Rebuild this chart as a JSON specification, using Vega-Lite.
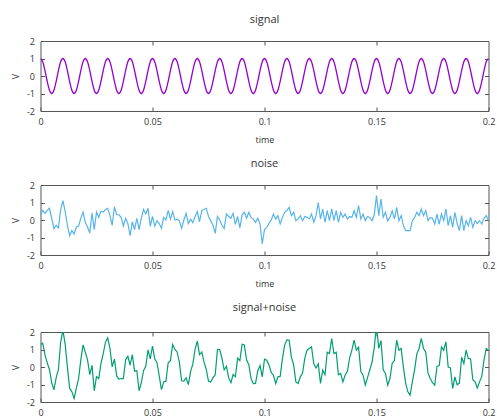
{
"$schema": "https://vega.github.io/schema/vega-lite/v6.json",
"padding": {"left": 10.5, "top": 13, "right": 5, "bottom": 5},
"spacing": 12,
"datasets": {"d": [
{"t":0,"s":1,"n":0.29,"sn":1.29},
{"t":0.001,"s":0.81,"n":0.55,"sn":1.36},
{"t":0.002,"s":0.31,"n":0.38,"sn":0.69},
{"t":0.003,"s":-0.31,"n":0.55,"sn":0.24},
{"t":0.004,"s":-0.81,"n":0.67,"sn":-0.14},
{"t":0.005,"s":-1,"n":0.1,"sn":-0.9},
{"t":0.006,"s":-0.81,"n":-0.5,"sn":-1.31},
{"t":0.007,"s":-0.31,"n":-0.3,"sn":-0.61},
{"t":0.008,"s":0.31,"n":-0.45,"sn":-0.14},
{"t":0.009,"s":0.81,"n":0.6,"sn":1.41},
{"t":0.01,"s":1,"n":1.1,"sn":2.1},
{"t":0.011,"s":0.81,"n":0.5,"sn":1.31},
{"t":0.012,"s":0.31,"n":-0.3,"sn":0.01},
{"t":0.013,"s":-0.31,"n":-0.9,"sn":-1.21},
{"t":0.014,"s":-0.81,"n":-0.6,"sn":-1.41},
{"t":0.015,"s":-1,"n":-0.8,"sn":-1.8},
{"t":0.016,"s":-0.81,"n":-0.4,"sn":-1.21},
{"t":0.017,"s":-0.31,"n":-0.35,"sn":-0.66},
{"t":0.018,"s":0.31,"n":0.1,"sn":0.41},
{"t":0.019,"s":0.81,"n":0.45,"sn":1.26},
{"t":0.02,"s":1,"n":-0.15,"sn":0.85},
{"t":0.021,"s":0.81,"n":-0.4,"sn":0.41},
{"t":0.022,"s":0.31,"n":-0.75,"sn":-0.44},
{"t":0.023,"s":-0.31,"n":0.4,"sn":0.09},
{"t":0.024,"s":-0.81,"n":-0.55,"sn":-1.36},
{"t":0.025,"s":-1,"n":0.45,"sn":-0.55},
{"t":0.026,"s":-0.81,"n":0.15,"sn":-0.66},
{"t":0.027,"s":-0.31,"n":0.5,"sn":0.19},
{"t":0.028,"s":0.31,"n":0.45,"sn":0.76},
{"t":0.029,"s":0.81,"n":0.6,"sn":1.41},
{"t":0.03,"s":1,"n":0.67,"sn":1.67},
{"t":0.031,"s":0.81,"n":0.25,"sn":1.06},
{"t":0.032,"s":0.31,"n":-0.3,"sn":0.01},
{"t":0.033,"s":-0.31,"n":0.76,"sn":0.45},
{"t":0.034,"s":-0.81,"n":0.3,"sn":-0.51},
{"t":0.035,"s":-1,"n":0.3,"sn":-0.7},
{"t":0.036,"s":-0.81,"n":0.15,"sn":-0.66},
{"t":0.037,"s":-0.31,"n":-0.35,"sn":-0.66},
{"t":0.038,"s":0.31,"n":0.1,"sn":0.41},
{"t":0.039,"s":0.81,"n":-0.2,"sn":0.61},
{"t":0.04,"s":1,"n":-0.9,"sn":0.1},
{"t":0.041,"s":0.81,"n":-0.1,"sn":0.71},
{"t":0.042,"s":0.31,"n":-0.55,"sn":-0.24},
{"t":0.043,"s":-0.31,"n":0.1,"sn":-0.21},
{"t":0.044,"s":-0.81,"n":-0.55,"sn":-1.36},
{"t":0.045,"s":-1,"n":0.1,"sn":-0.9},
{"t":0.046,"s":-0.81,"n":0.6,"sn":-0.21},
{"t":0.047,"s":-0.31,"n":0.35,"sn":0.04},
{"t":0.048,"s":0.31,"n":0.67,"sn":0.98},
{"t":0.049,"s":0.81,"n":-0.35,"sn":0.46},
{"t":0.05,"s":1,"n":0.2,"sn":1.2},
{"t":0.051,"s":0.81,"n":-0.35,"sn":0.46},
{"t":0.052,"s":0.31,"n":-0.05,"sn":0.26},
{"t":0.053,"s":-0.31,"n":-0.2,"sn":-0.51},
{"t":0.054,"s":-0.81,"n":-0.48,"sn":-1.29},
{"t":0.055,"s":-1,"n":0.15,"sn":-0.85},
{"t":0.056,"s":-0.81,"n":0,"sn":-0.81},
{"t":0.057,"s":-0.31,"n":0.55,"sn":0.24},
{"t":0.058,"s":0.31,"n":0.05,"sn":0.36},
{"t":0.059,"s":0.81,"n":0.48,"sn":1.29},
{"t":0.06,"s":1,"n":0,"sn":1},
{"t":0.061,"s":0.81,"n":0.05,"sn":0.86},
{"t":0.062,"s":0.31,"n":-0.05,"sn":0.26},
{"t":0.063,"s":-0.31,"n":-0.48,"sn":-0.79},
{"t":0.064,"s":-0.81,"n":0,"sn":-0.81},
{"t":0.065,"s":-1,"n":0.38,"sn":-0.62},
{"t":0.066,"s":-0.81,"n":-0.2,"sn":-1.01},
{"t":0.067,"s":-0.31,"n":0.05,"sn":-0.26},
{"t":0.068,"s":0.31,"n":-0.15,"sn":0.16},
{"t":0.069,"s":0.81,"n":0.2,"sn":1.01},
{"t":0.07,"s":1,"n":0.48,"sn":1.48},
{"t":0.071,"s":0.81,"n":-0.1,"sn":0.71},
{"t":0.072,"s":0.31,"n":0.55,"sn":0.86},
{"t":0.073,"s":-0.31,"n":0.6,"sn":0.29},
{"t":0.074,"s":-0.81,"n":0.67,"sn":-0.14},
{"t":0.075,"s":-1,"n":0.2,"sn":-0.8},
{"t":0.076,"s":-0.81,"n":-0.05,"sn":-0.86},
{"t":0.077,"s":-0.31,"n":-0.3,"sn":-0.61},
{"t":0.078,"s":0.31,"n":-0.76,"sn":-0.45},
{"t":0.079,"s":0.81,"n":0.2,"sn":1.01},
{"t":0.08,"s":1,"n":0,"sn":1},
{"t":0.081,"s":0.81,"n":-0.3,"sn":0.51},
{"t":0.082,"s":0.31,"n":-0.48,"sn":-0.17},
{"t":0.083,"s":-0.31,"n":0.35,"sn":0.04},
{"t":0.084,"s":-0.81,"n":0.2,"sn":-0.61},
{"t":0.085,"s":-1,"n":0.1,"sn":-0.9},
{"t":0.086,"s":-0.81,"n":0.38,"sn":-0.43},
{"t":0.087,"s":-0.31,"n":-0.25,"sn":-0.56},
{"t":0.088,"s":0.31,"n":0.2,"sn":0.51},
{"t":0.089,"s":0.81,"n":-0.45,"sn":0.36},
{"t":0.09,"s":1,"n":0.3,"sn":1.3},
{"t":0.091,"s":0.81,"n":0.45,"sn":1.26},
{"t":0.092,"s":0.31,"n":0.1,"sn":0.41},
{"t":0.093,"s":-0.31,"n":0.44,"sn":0.13},
{"t":0.094,"s":-0.81,"n":0.15,"sn":-0.66},
{"t":0.095,"s":-1,"n":0.05,"sn":-0.95},
{"t":0.096,"s":-0.81,"n":-0.13,"sn":-0.94},
{"t":0.097,"s":-0.31,"n":0.1,"sn":-0.21},
{"t":0.098,"s":0.31,"n":-0.23,"sn":0.08},
{"t":0.099,"s":0.81,"n":-1.37,"sn":-0.56},
{"t":0.1,"s":1,"n":-0.55,"sn":0.45},
{"t":0.101,"s":0.81,"n":-0.42,"sn":0.39},
{"t":0.102,"s":0.31,"n":-0.2,"sn":0.11},
{"t":0.103,"s":-0.31,"n":0,"sn":-0.31},
{"t":0.104,"s":-0.81,"n":0.34,"sn":-0.47},
{"t":0.105,"s":-1,"n":0.06,"sn":-0.94},
{"t":0.106,"s":-0.81,"n":0.25,"sn":-0.56},
{"t":0.107,"s":-0.31,"n":-0.23,"sn":-0.54},
{"t":0.108,"s":0.31,"n":0.15,"sn":0.46},
{"t":0.109,"s":0.81,"n":0.44,"sn":1.25},
{"t":0.11,"s":1,"n":0.55,"sn":1.55},
{"t":0.111,"s":0.81,"n":0.72,"sn":1.53},
{"t":0.112,"s":0.31,"n":0.25,"sn":0.56},
{"t":0.113,"s":-0.31,"n":0.44,"sn":0.13},
{"t":0.114,"s":-0.81,"n":-0.04,"sn":-0.85},
{"t":0.115,"s":-1,"n":0.06,"sn":-0.94},
{"t":0.116,"s":-0.81,"n":0.25,"sn":-0.56},
{"t":0.117,"s":-0.31,"n":-0.04,"sn":-0.35},
{"t":0.118,"s":0.31,"n":0.2,"sn":0.51},
{"t":0.119,"s":0.81,"n":0.15,"sn":0.96},
{"t":0.12,"s":1,"n":0.06,"sn":1.06},
{"t":0.121,"s":0.81,"n":0.34,"sn":1.15},
{"t":0.122,"s":0.31,"n":-0.13,"sn":0.18},
{"t":0.123,"s":-0.31,"n":0.25,"sn":-0.06},
{"t":0.124,"s":-0.81,"n":1,"sn":0.19},
{"t":0.125,"s":-1,"n":0.06,"sn":-0.94},
{"t":0.126,"s":-0.81,"n":0.63,"sn":-0.18},
{"t":0.127,"s":-0.31,"n":-0.13,"sn":-0.44},
{"t":0.128,"s":0.31,"n":0.53,"sn":0.84},
{"t":0.129,"s":0.81,"n":-0.04,"sn":0.77},
{"t":0.13,"s":1,"n":0.63,"sn":1.63},
{"t":0.131,"s":0.81,"n":-0.04,"sn":0.77},
{"t":0.132,"s":0.31,"n":0.53,"sn":0.84},
{"t":0.133,"s":-0.31,"n":-0.13,"sn":-0.44},
{"t":0.134,"s":-0.81,"n":0.44,"sn":-0.37},
{"t":0.135,"s":-1,"n":0.15,"sn":-0.85},
{"t":0.136,"s":-0.81,"n":0.34,"sn":-0.47},
{"t":0.137,"s":-0.31,"n":0.06,"sn":-0.25},
{"t":0.138,"s":0.31,"n":0.2,"sn":0.51},
{"t":0.139,"s":0.81,"n":0.15,"sn":0.96},
{"t":0.14,"s":1,"n":0.53,"sn":1.53},
{"t":0.141,"s":0.81,"n":0.15,"sn":0.96},
{"t":0.142,"s":0.31,"n":0.82,"sn":1.13},
{"t":0.143,"s":-0.31,"n":0.06,"sn":-0.25},
{"t":0.144,"s":-0.81,"n":0.34,"sn":-0.47},
{"t":0.145,"s":-1,"n":-0.04,"sn":-1.04},
{"t":0.146,"s":-0.81,"n":0.2,"sn":-0.61},
{"t":0.147,"s":-0.31,"n":0.15,"sn":-0.16},
{"t":0.148,"s":0.31,"n":-0.04,"sn":0.27},
{"t":0.149,"s":0.81,"n":0.3,"sn":1.11},
{"t":0.15,"s":1,"n":1.39,"sn":2.39},
{"t":0.151,"s":0.81,"n":0.25,"sn":1.06},
{"t":0.152,"s":0.31,"n":1.2,"sn":1.51},
{"t":0.153,"s":-0.31,"n":0.15,"sn":-0.16},
{"t":0.154,"s":-0.81,"n":0.44,"sn":-0.37},
{"t":0.155,"s":-1,"n":-0.04,"sn":-1.04},
{"t":0.156,"s":-0.81,"n":0.15,"sn":-0.66},
{"t":0.157,"s":-0.31,"n":0.53,"sn":0.22},
{"t":0.158,"s":0.31,"n":0.06,"sn":0.37},
{"t":0.159,"s":0.81,"n":0.72,"sn":1.53},
{"t":0.16,"s":1,"n":-0.04,"sn":0.96},
{"t":0.161,"s":0.81,"n":0.25,"sn":1.06},
{"t":0.162,"s":0.31,"n":-0.32,"sn":-0.01},
{"t":0.163,"s":-0.31,"n":-0.61,"sn":-0.92},
{"t":0.164,"s":-0.81,"n":-0.61,"sn":-1.42},
{"t":0.165,"s":-1,"n":-0.61,"sn":-1.61},
{"t":0.166,"s":-0.81,"n":-0.04,"sn":-0.85},
{"t":0.167,"s":-0.31,"n":0.15,"sn":-0.16},
{"t":0.168,"s":0.31,"n":0.44,"sn":0.75},
{"t":0.169,"s":0.81,"n":0.25,"sn":1.06},
{"t":0.17,"s":1,"n":0.63,"sn":1.63},
{"t":0.171,"s":0.81,"n":0.25,"sn":1.06},
{"t":0.172,"s":0.31,"n":0.53,"sn":0.84},
{"t":0.173,"s":-0.31,"n":-0.04,"sn":-0.35},
{"t":0.174,"s":-0.81,"n":0.15,"sn":-0.66},
{"t":0.175,"s":-1,"n":0.1,"sn":-0.9},
{"t":0.176,"s":-0.81,"n":-0.23,"sn":-1.04},
{"t":0.177,"s":-0.31,"n":0.34,"sn":0.03},
{"t":0.178,"s":0.31,"n":-0.23,"sn":0.08},
{"t":0.179,"s":0.81,"n":0.34,"sn":1.15},
{"t":0.18,"s":1,"n":-0.04,"sn":0.96},
{"t":0.181,"s":0.81,"n":0.63,"sn":1.44},
{"t":0.182,"s":0.31,"n":-0.32,"sn":-0.01},
{"t":0.183,"s":-0.31,"n":0.25,"sn":-0.06},
{"t":0.184,"s":-0.81,"n":-0.42,"sn":-1.23},
{"t":0.185,"s":-1,"n":0.44,"sn":-0.56},
{"t":0.186,"s":-0.81,"n":-0.2,"sn":-1.01},
{"t":0.187,"s":-0.31,"n":-0.61,"sn":-0.92},
{"t":0.188,"s":0.31,"n":0.25,"sn":0.56},
{"t":0.189,"s":0.81,"n":-0.61,"sn":0.2},
{"t":0.19,"s":1,"n":-0.04,"sn":0.96},
{"t":0.191,"s":0.81,"n":-0.32,"sn":0.49},
{"t":0.192,"s":0.31,"n":0.15,"sn":0.46},
{"t":0.193,"s":-0.31,"n":-0.42,"sn":-0.73},
{"t":0.194,"s":-0.81,"n":-0.04,"sn":-0.85},
{"t":0.195,"s":-1,"n":-0.2,"sn":-1.2},
{"t":0.196,"s":-0.81,"n":-0.04,"sn":-0.85},
{"t":0.197,"s":-0.31,"n":-0.23,"sn":-0.54},
{"t":0.198,"s":0.31,"n":0.1,"sn":0.41},
{"t":0.199,"s":0.81,"n":0.25,"sn":1.06},
{"t":0.2,"s":1,"n":-0.04,"sn":0.96}
]},
"data": {"name": "d"},
"config": {
  "font": "Open Sans",
  "view": {"stroke": "#555", "strokeWidth": 1},
  "axis": {"grid": false, "domain": false, "tickColor": "#555", "tickSize": -4, "tickWidth": 1, "labelFontSize": 9, "labelColor": "#333", "labelPadding": 10, "titleFontSize": 9, "titleFontWeight": "normal", "titleColor": "#333", "labelFont": "Open Sans", "titleFont": "Open Sans"},
  "title": {"fontSize": 11, "fontWeight": "normal", "color": "#333", "offset": 12, "font": "Open Sans"}
},
"vconcat": [
  {"title": "signal", "width": 448, "height": 70,
   "layer": [
     {"mark": {"type": "line", "color": "#9400D3", "strokeWidth": 1.3, "clip": true, "interpolate": "monotone"},
      "encoding": {
        "x": {"field": "t", "type": "quantitative", "scale": {"domain": [0, 0.2], "nice": false}, "axis": {"title": "time", "values": [0, 0.05, 0.1, 0.15, 0.2], "labelExpr": "'' + datum.value", "labelFlush": false, "titlePadding": 9}},
        "y": {"field": "s", "type": "quantitative", "scale": {"domain": [-2, 2], "nice": false}, "axis": {"title": "V", "values": [-2, -1, 0, 1, 2], "labelExpr": "'' + datum.value", "titlePadding": 6}}}},
     {"mark": {"type": "line", "strokeOpacity": 0},
      "encoding": {
        "x": {"field": "t", "type": "quantitative", "axis": {"orient": "top", "labels": false, "title": null, "values": [0.05, 0.1, 0.15]}},
        "y": {"field": "s", "type": "quantitative", "axis": {"orient": "right", "labels": false, "title": null, "values": [-1, 0, 1]}}}}
   ],
   "resolve": {"axis": {"x": "independent", "y": "independent"}}},
  {"title": "noise", "width": 448, "height": 70,
   "layer": [
     {"mark": {"type": "line", "color": "#56B4E9", "strokeWidth": 1.2, "clip": true},
      "encoding": {
        "x": {"field": "t", "type": "quantitative", "scale": {"domain": [0, 0.2], "nice": false}, "axis": {"title": "time", "values": [0, 0.05, 0.1, 0.15, 0.2], "labelExpr": "'' + datum.value", "labelFlush": false, "titlePadding": 9}},
        "y": {"field": "n", "type": "quantitative", "scale": {"domain": [-2, 2], "nice": false}, "axis": {"title": "V", "values": [-2, -1, 0, 1, 2], "labelExpr": "'' + datum.value", "titlePadding": 6}}}},
     {"mark": {"type": "line", "strokeOpacity": 0},
      "encoding": {
        "x": {"field": "t", "type": "quantitative", "axis": {"orient": "top", "labels": false, "title": null, "values": [0.05, 0.1, 0.15]}},
        "y": {"field": "n", "type": "quantitative", "axis": {"orient": "right", "labels": false, "title": null, "values": [-1, 0, 1]}}}}
   ],
   "resolve": {"axis": {"x": "independent", "y": "independent"}}},
  {"title": "signal+noise", "width": 448, "height": 70,
   "layer": [
     {"mark": {"type": "line", "color": "#009E73", "strokeWidth": 1.2, "clip": true},
      "encoding": {
        "x": {"field": "t", "type": "quantitative", "scale": {"domain": [0, 0.2], "nice": false}, "axis": {"title": null, "values": [0, 0.05, 0.1, 0.15, 0.2], "labelExpr": "'' + datum.value", "labelFlush": false}},
        "y": {"field": "sn", "type": "quantitative", "scale": {"domain": [-2, 2], "nice": false}, "axis": {"title": "V", "values": [-2, -1, 0, 1, 2], "labelExpr": "'' + datum.value", "titlePadding": 6}}}},
     {"mark": {"type": "line", "strokeOpacity": 0},
      "encoding": {
        "x": {"field": "t", "type": "quantitative", "axis": {"orient": "top", "labels": false, "title": null, "values": [0.05, 0.1, 0.15]}},
        "y": {"field": "sn", "type": "quantitative", "axis": {"orient": "right", "labels": false, "title": null, "values": [-1, 0, 1]}}}}
   ],
   "resolve": {"axis": {"x": "independent", "y": "independent"}}}
]
}
